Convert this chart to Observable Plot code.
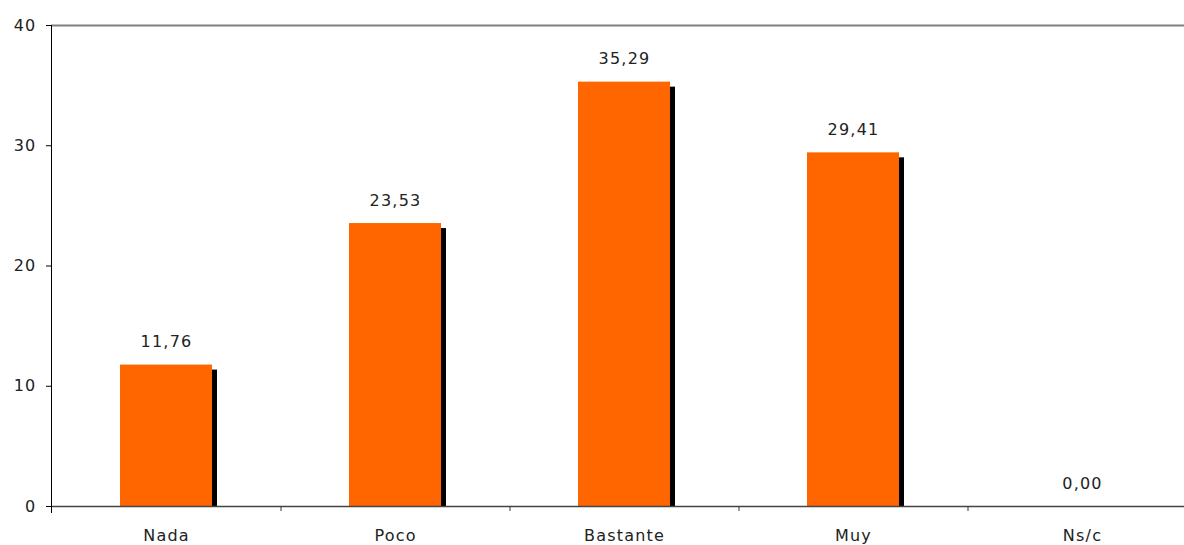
<!DOCTYPE html>
<html>
<head>
<meta charset="utf-8">
<script src="https://cdn.jsdelivr.net/npm/d3@7"></script>
<script src="https://cdn.jsdelivr.net/npm/@observablehq/plot@0.6"></script>
<style>
  html, body { margin: 0; padding: 0; background: #fff; }
</style>
</head>
<body>
<div id="chart"></div>
<script>
const categories = ["Nada", "Poco", "Bastante", "Muy", "Ns/c"];
const values = [11.76, 23.53, 35.29, 29.41, 0.00];
const yTicks = [0, 10, 20, 30, 40];

const data = categories.map((c, i) => ({category: c, value: values[i]}));
const fmt = v => v.toFixed(2).replace(".", ",");

const chart = Plot.plot({
  width: 1184,
  height: 545,
  marginTop: 25,
  marginBottom: 39,
  marginLeft: 51,
  marginRight: 0,
  style: {fontFamily: "'DejaVu Sans', sans-serif", fontSize: "16px", color: "#222", letterSpacing: "1.2px", background: "#fff"},
  x: {domain: categories, range: [51, 1196], paddingInner: 0.6, paddingOuter: 0.3, label: null},
  y: {domain: [0, 40], label: null},
  marks: [
    Plot.ruleY([40], {stroke: "#808080", strokeWidth: 2}),
    Plot.barY(data.filter(d => d.value > 0), {x: "category", y: "value", fill: "#000", dx: 5, dy: 5, insetBottom: 5}),
    Plot.barY(data, {x: "category", y: "value", fill: "#FF6600"}),
    Plot.ruleY([0], {stroke: "#444", strokeWidth: 1.5}),
    Plot.frame({anchor: "left", stroke: "#000", insetBottom: -6}),
    Plot.axisY({ticks: yTicks, tickSize: 5, tickPadding: 10, tickFormat: d => d, fontSize: 16, stroke: "#000"}),
    Plot.axisX({tickSize: 5, dx: 114.5, tickFormat: () => "", stroke: "#333"}),
    Plot.axisX({tickSize: 0, tickPadding: 23, fontSize: 16}),
    Plot.text(data, {x: "category", y: "value", text: d => fmt(d.value), dy: -23, fontSize: 16, fill: "#222"})
  ]
});
document.getElementById("chart").appendChild(chart);
</script>
</body>
</html>
